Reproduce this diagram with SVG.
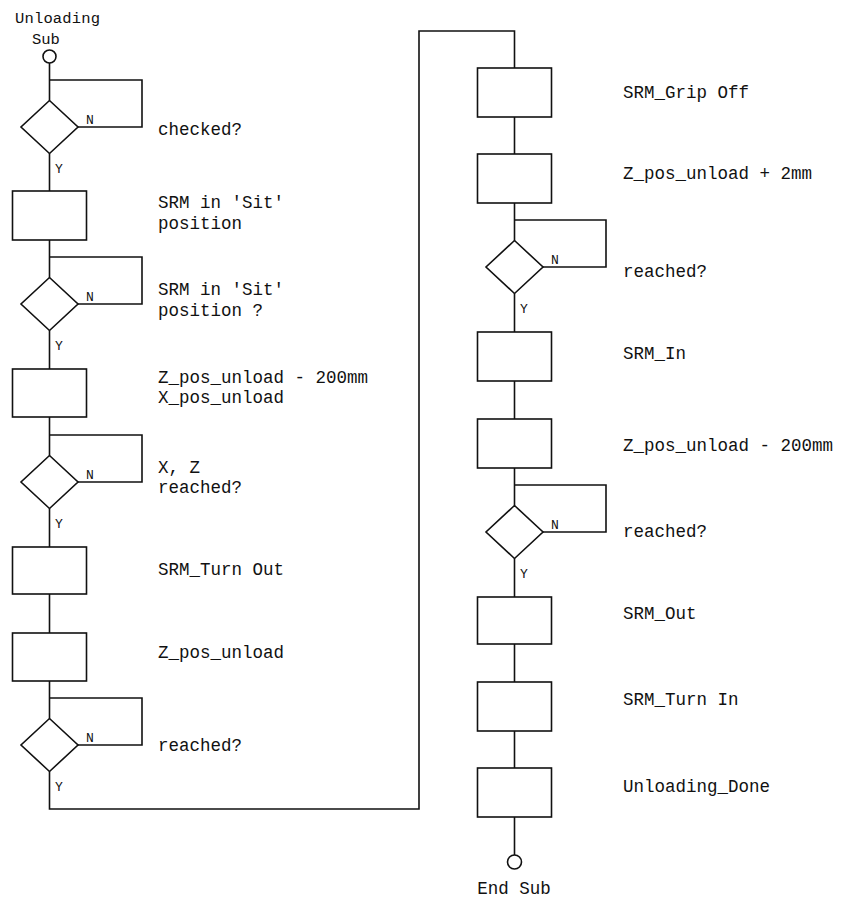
<svg xmlns="http://www.w3.org/2000/svg" width="845" height="900" viewBox="0 0 845 900">
<style>
.s{fill:none;stroke:#111;stroke-width:1.6}
.b{fill:#fff;stroke:#111;stroke-width:1.6}
.t{font-family:"Liberation Mono","DejaVu Sans Mono",monospace;font-size:17.5px;fill:#111}
.h{font-family:"Liberation Mono","DejaVu Sans Mono",monospace;font-size:15.5px;fill:#111}
.yn{font-family:"Liberation Mono","DejaVu Sans Mono",monospace;font-size:13px;fill:#111}
</style>
<rect width="845" height="900" fill="#fff"/>
<g id="connectors" class="s">
<path d="M49.5 63V100.5M49.5 153.5V191M49.5 240V277.5M49.5 330.5V369M49.5 417V455.5M49.5 508.5V547M49.5 594V633M49.5 681V718.5M49.5 771.5V809H419V31H514.5V68"/>
<path d="M49.5 80H142V127H78M49.5 257H142V304H78M49.5 435H142V482H78M49.5 698H142V745H78"/>
<path d="M514.5 117V154M514.5 203V240.5M514.5 293.5V332M514.5 381V419M514.5 468V505.5M514.5 558.5V597M514.5 644V682M514.5 731V768M514.5 817V855"/>
<path d="M514.5 220H606V267H543M514.5 485H606V532H543"/>
</g>
<g id="start">
<circle class="b" cx="49.5" cy="56.5" r="6.5"/>
<text class="h" x="15" y="23" textLength="85">Unloading</text>
<text class="h" x="32" y="44">Sub</text>
</g>
<g id="d1"><path class="b" d="M49.5 100.5L78 127L49.5 153.5L21 127Z"/><text class="yn" x="86" y="124">N</text><text class="yn" x="55" y="173">Y</text><text class="t" x="158" y="135">checked?</text></g>
<g id="r1"><rect class="b" x="12.5" y="191" width="74" height="49"/><text class="t" x="158" y="208">SRM in 'Sit'</text><text class="t" x="158" y="229">position</text></g>
<g id="d2"><path class="b" d="M49.5 277.5L78 304L49.5 330.5L21 304Z"/><text class="yn" x="86" y="301">N</text><text class="yn" x="55" y="350">Y</text><text class="t" x="158" y="295">SRM in 'Sit'</text><text class="t" x="158" y="316">position ?</text></g>
<g id="r2"><rect class="b" x="12.5" y="369" width="74" height="48"/><text class="t" x="158" y="383">Z_pos_unload - 200mm</text><text class="t" x="158" y="403">X_pos_unload</text></g>
<g id="d3"><path class="b" d="M49.5 455.5L78 482L49.5 508.5L21 482Z"/><text class="yn" x="86" y="479">N</text><text class="yn" x="55" y="528">Y</text><text class="t" x="158" y="473">X, Z</text><text class="t" x="158" y="493">reached?</text></g>
<g id="r3"><rect class="b" x="12.5" y="547" width="74" height="47"/><text class="t" x="158" y="575">SRM_Turn Out</text></g>
<g id="r4"><rect class="b" x="12.5" y="633" width="74" height="48"/><text class="t" x="158" y="658">Z_pos_unload</text></g>
<g id="d4"><path class="b" d="M49.5 718.5L78 745L49.5 771.5L21 745Z"/><text class="yn" x="86" y="742">N</text><text class="yn" x="55" y="791">Y</text><text class="t" x="158" y="751">reached?</text></g>
<g id="r5"><rect class="b" x="477.5" y="68" width="74" height="49"/><text class="t" x="623" y="98">SRM_Grip Off</text></g>
<g id="r6"><rect class="b" x="477.5" y="154" width="74" height="49"/><text class="t" x="623" y="179">Z_pos_unload + 2mm</text></g>
<g id="d5"><path class="b" d="M514.5 240.5L543 267L514.5 293.5L486 267Z"/><text class="yn" x="551" y="264">N</text><text class="yn" x="520" y="313">Y</text><text class="t" x="623" y="277">reached?</text></g>
<g id="r7"><rect class="b" x="477.5" y="332" width="74" height="49"/><text class="t" x="623" y="359">SRM_In</text></g>
<g id="r8"><rect class="b" x="477.5" y="419" width="74" height="49"/><text class="t" x="623" y="451">Z_pos_unload - 200mm</text></g>
<g id="d6"><path class="b" d="M514.5 505.5L543 532L514.5 558.5L486 532Z"/><text class="yn" x="551" y="529">N</text><text class="yn" x="520" y="578">Y</text><text class="t" x="623" y="537">reached?</text></g>
<g id="r9"><rect class="b" x="477.5" y="597" width="74" height="47"/><text class="t" x="623" y="619">SRM_Out</text></g>
<g id="r10"><rect class="b" x="477.5" y="682" width="74" height="49"/><text class="t" x="623" y="705">SRM_Turn In</text></g>
<g id="r11"><rect class="b" x="477.5" y="768" width="74" height="49"/><text class="t" x="623" y="792">Unloading_Done</text></g>
<g id="end"><circle class="b" cx="514.5" cy="862" r="7"/><text class="t" x="514" y="894" text-anchor="middle">End Sub</text></g>
</svg>
